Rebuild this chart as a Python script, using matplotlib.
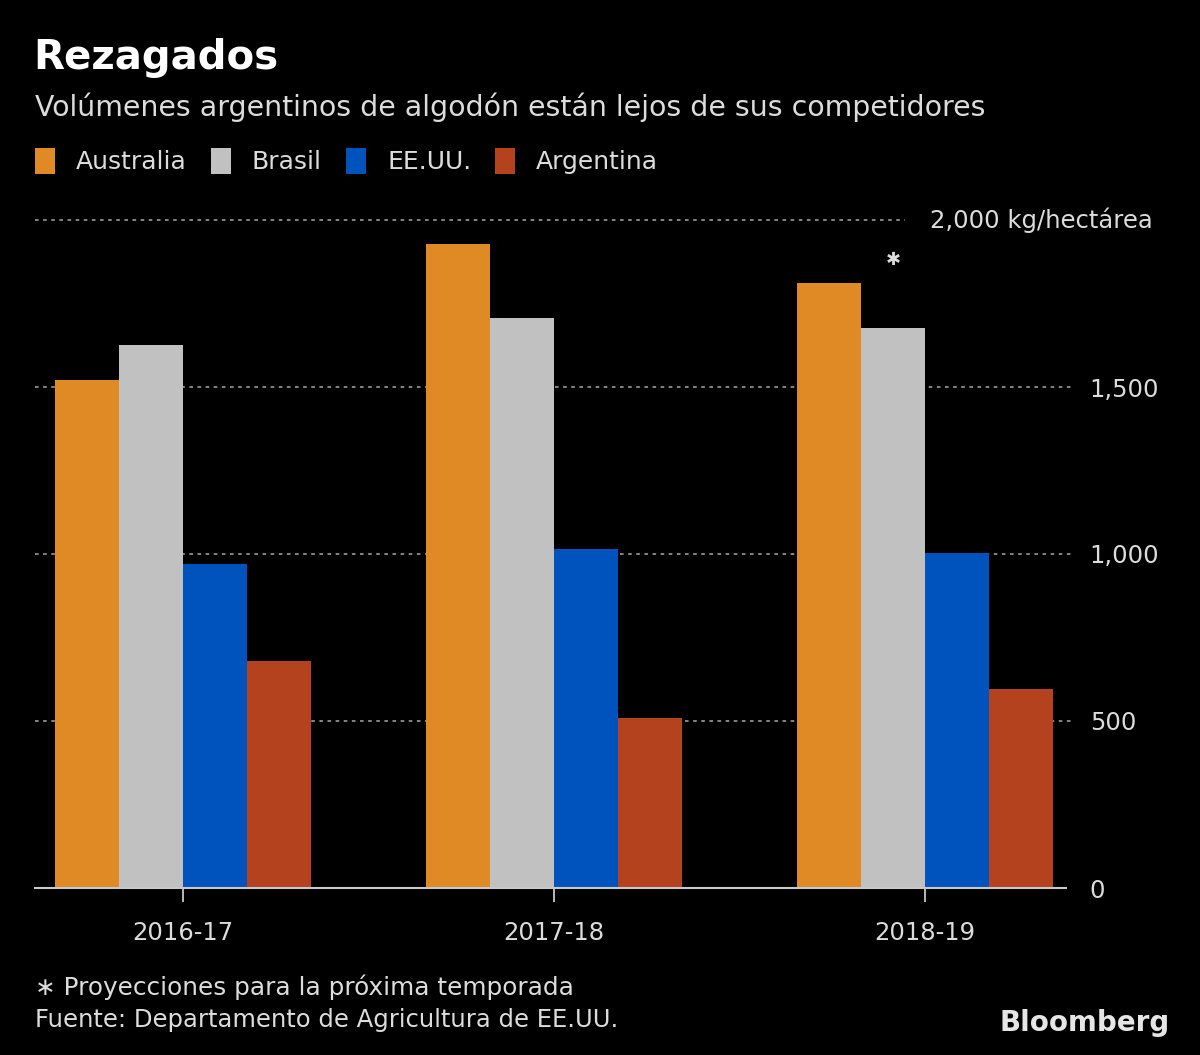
import matplotlib
matplotlib.use("Agg")
import matplotlib.pyplot as plt
import numpy as np
from matplotlib.transforms import blended_transform_factory

# ---- data ----
seasons = ["2016-17", "2017-18", "2018-19"]
series_names = ["Australia", "Brasil", "EE.UU.", "Argentina"]
australia = [1521, 1928, 1811]
brasil = [1626, 1707, 1677]
eeuu = [970, 1015, 1003]
argentina = [680, 509, 596]
y_ticks = [0, 500, 1000, 1500]
y_tick_labels = ["0", "500", "1,000", "1,500"]
top_label = "2,000 kg/hectárea"

colors = ["#DF8A24", "#C1C1C1", "#0052BD", "#B5421F"]
TXT = "#DCDCDC"
plt.rcParams["font.family"] = ["DejaVu Sans"]

W, H = 1200, 1055
fig = plt.figure(figsize=(12, 10.55), dpi=100, facecolor="black")

def fx(px):
    return px / W

def fy(py):
    return 1 - py / H

# axes: left 35px, right 1055px, y=0 at 888px, y=2000 at 220px
ax = fig.add_axes([fx(35), fy(888), (1055 - 35) / W, (888 - 220) / H])
ax.set_facecolor("black")

group_px = 371.0
bar_w = 64.0 / group_px
x = np.arange(len(seasons))
all_series = [australia, brasil, eeuu, argentina]
handles = []
for i, (vals, c) in enumerate(zip(all_series, colors)):
    b = ax.bar(x + (i - 1.5) * bar_w, vals, width=bar_w, color=c, zorder=3,
               label=series_names[i], linewidth=0)
    handles.append(b)

ax.set_ylim(0, 2000)
ax.set_xlim((35 - 183) / group_px, (1055 - 183) / group_px)

# grid lines
grid_end = (1073 - 35) / 1020
for v in [500, 1000, 1500]:
    ax.axhline(v, xmax=grid_end, color="#8E8E8E", lw=1.3, ls=(0, (2, 2.5)),
               zorder=1, clip_on=False)
ax.axhline(2000, xmin=0, xmax=(905 - 35) / 1020, color="#8E8E8E", lw=1.3,
           ls=(0, (2, 2.5)), zorder=1, clip_on=False)
ax.axhline(0, color="#C8C8C8", lw=1.5, zorder=4, xmax=(1066 - 35) / 1020,
           clip_on=False)

for s in ax.spines.values():
    s.set_visible(False)

ax.yaxis.tick_right()
ax.set_yticks(y_ticks)
ax.set_yticklabels(y_tick_labels)
ax.tick_params(axis="y", length=0, pad=25, labelsize=17.5, labelcolor=TXT)
for lab in ax.get_yticklabels():
    lab.set_horizontalalignment("left")

ax.set_xticks(x)
ax.set_xticklabels(seasons)
ax.tick_params(axis="x", length=10, width=1.3, color="#C8C8C8", pad=14,
               labelsize=17.5, labelcolor=TXT)

trans = blended_transform_factory(fig.transFigure, ax.transData)
ax.text(fx(1153), 2000, top_label, transform=trans, ha="right", va="center",
        fontsize=17.5, color=TXT)

# asterisk on projected season
ax.text(x[2] - 0.5 * bar_w, 1880, "\u2731", ha="center", va="center",
        fontsize=13, color=TXT)

# titles
fig.text(fx(33), fy(58), "Rezagados", fontsize=29, fontweight="bold",
         color="white", va="center", ha="left")
fig.text(fx(35), fy(107), "Volúmenes argentinos de algodón están lejos de sus competidores",
         fontsize=20.4, color=TXT, va="center", ha="left")

leg = fig.legend(handles=handles, labels=series_names, loc="center left",
                 bbox_to_anchor=(fx(35), fy(161)), ncol=4, frameon=False,
                 fontsize=18, handlelength=0.8, handleheight=1.25,
                 handletextpad=0.85, columnspacing=0.95, labelcolor=TXT,
                 borderpad=0, borderaxespad=0)

fig.text(fx(35), fy(987), "\u2217 Proyecciones para la próxima temporada",
         fontsize=17.8, color=TXT, va="center", ha="left")
fig.text(fx(35), fy(1020), "Fuente: Departamento de Agricultura de EE.UU.",
         fontsize=17.5, color=TXT, va="center", ha="left")
fig.text(fx(1170), fy(1023), "Bloomberg", fontsize=20, fontweight="bold",
         color="#E6E6E6", va="center", ha="right")

fig.savefig("out.png", dpi=100, facecolor="black")
